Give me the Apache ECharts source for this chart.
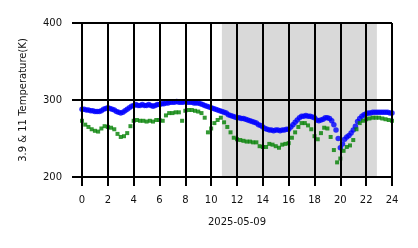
<!DOCTYPE html>
<html>
<head>
<meta charset="utf-8">
<script src="https://cdn.jsdelivr.net/npm/echarts@6/dist/echarts.min.js"></script>
<style>html,body{margin:0;padding:0;background:#fff}#c{width:418px;height:248px}</style>
</head>
<body>
<div id="c"></div>
<script>
// Blue (3.9 µm) brightness temperature, every 10 minutes from 00:00 to 24:00 (K)
const blueStepHours = 1 / 6;
const blueValues = [
  288,288,287,287,286,286,285,285,285,286,288,289,
  290,289,288,287,285,284,283,284,286,288,290,292,
  293,294,293,293,294,293,293,294,293,292,293,294,
  294,295,295,296,296,297,297,297,298,297,297,297,
  298,297,297,297,296,296,296,295,294,293,292,291,
  290,289,288,287,286,285,284,283,281,280,279,278,
  277,277,276,276,275,274,273,272,271,270,268,267,
  265,263,262,261,261,260,261,261,260,261,261,262,
  262,265,268,271,274,277,279,279,280,279,279,278,
  277,274,273,274,275,277,277,276,273,268,261,250,
  238,243,249,252,254,257,261,266,272,276,279,281,
  282,283,283,284,284,284,284,284,284,284,284,283,
  283
];
// Green (11 µm) brightness temperature, every 15 minutes from 00:00 to 24:00 (K)
const greenStepHours = 0.25;
const greenValues = [
  273,268,265,262,260,259,263,266,265,264,262,256,
  252,253,257,266,273,274,273,273,272,273,272,274,
  274,273,280,283,283,284,284,273,286,287,287,286,
  285,283,277,258,263,270,274,277,271,265,258,251,
  249,248,247,246,246,245,245,240,239,239,243,242,
  240,238,242,243,244,251,258,265,270,270,267,262,
  253,249,257,264,263,252,235,219,224,234,239,241,
  248,262,270,273,275,276,277,277,277,276,275,274,
  273
];
const xTicks = [0, 2, 4, 6, 8, 10, 12, 14, 16, 18, 20, 22, 24];
const yTicks = [200, 300, 400];
const shadeRange = [10.83, 22.83];
const xTitle = '2025-05-09';
const yTitle = '3.9 & 11 Temperature(K)';

const blueData = blueValues.map((v, i) => [i * blueStepHours, v]);
const greenData = greenValues.map((v, i) => [i * greenStepHours, v]);

const font = 'DejaVu Sans';
const chart = echarts.init(document.getElementById('c'), null, {renderer: 'canvas'});
chart.setOption({
  animation: false,
  backgroundColor: '#ffffff',
  grid: {left: 82, right: 26, top: 23, bottom: 71, containLabel: false},
  xAxis: {
    type: 'value', min: xTicks[0], max: xTicks[xTicks.length - 1], interval: 2,
    zlevel: 1, z: 10,
    name: xTitle, nameLocation: 'middle', nameGap: 40,
    nameTextStyle: {fontFamily: font, fontSize: 10, color: '#111'},
    axisLine: {show: false},
    axisTick: {show: true, length: 9, lineStyle: {color: '#000', width: 2}},
    axisLabel: {fontFamily: font, fontSize: 10, color: '#111', margin: 18},
    splitLine: {show: true, lineStyle: {color: '#000', width: 2}}
  },
  yAxis: {
    type: 'value', min: yTicks[0], max: yTicks[yTicks.length - 1], interval: 100,
    zlevel: 1, z: 10,
    name: yTitle, nameLocation: 'middle', nameGap: 54,
    nameTextStyle: {fontFamily: font, fontSize: 10, color: '#111'},
    axisLine: {show: false},
    axisTick: {show: true, length: 10, lineStyle: {color: '#000', width: 2}},
    axisLabel: {fontFamily: font, fontSize: 10, color: '#111', margin: 20},
    splitLine: {show: true, lineStyle: {color: '#000', width: 2}}
  },
  series: [
    {
      type: 'line', data: [], z: 1, silent: true,
      markArea: {
        silent: true,
        itemStyle: {color: '#d9d9d9'},
        data: [[{xAxis: shadeRange[0]}, {xAxis: shadeRange[1]}]]
      }
    },
    {
      type: 'scatter', data: blueData, z: 3,
      symbol: 'circle', symbolSize: 5.5,
      itemStyle: {color: '#0000ff'}
    },
    {
      type: 'scatter', data: greenData, z: 4,
      symbol: 'rect', symbolSize: 4,
      itemStyle: {color: '#008000'}
    }
  ]
});
</script>
</body>
</html>
